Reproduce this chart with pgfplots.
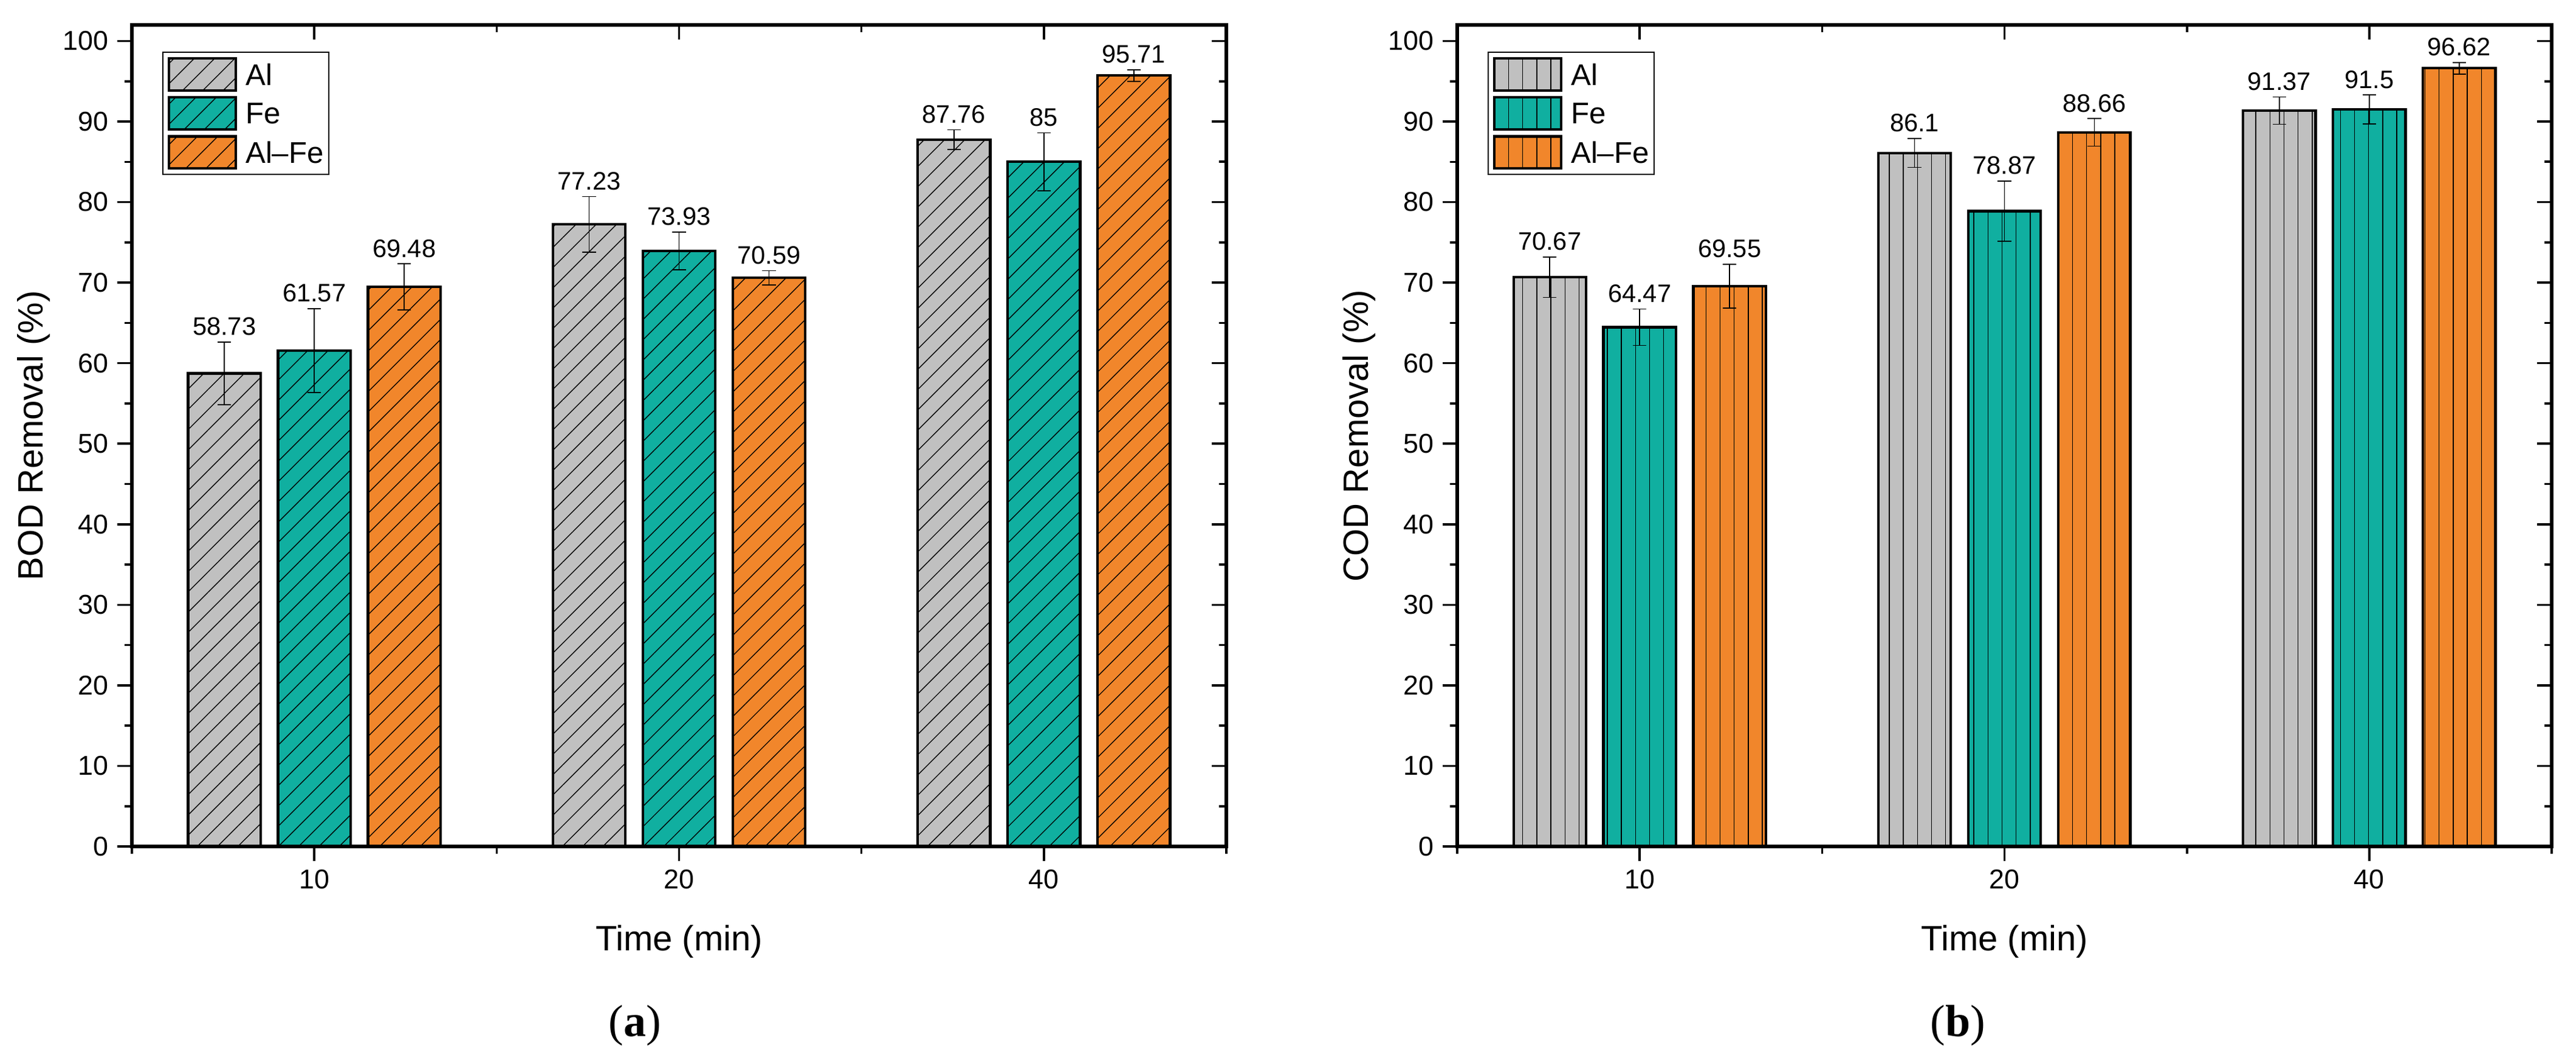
\documentclass[border=0pt]{standalone}
\usepackage{fontspec}
\setmainfont{Liberation Sans}
\newfontfamily\capfont{Liberation Serif}
\usepackage{pgfplots}
\pgfplotsset{compat=1.18}
\usepackage{pgfplotstable}
\usetikzlibrary{patterns.meta}
\definecolor{cgray}{RGB}{192,192,192}
\definecolor{cteal}{RGB}{16,175,160}
\definecolor{corange}{RGB}{241,134,43}

\pgfplotstableread{
x v1 e1 v2 e2 v3 e3
1 58.73 3.9 61.57 5.2 69.48 2.85
2 77.23 3.45 73.93 2.35 70.59 0.9
3 87.76 1.23 85 3.6 95.71 0.72
}\bodtab
\pgfplotstableread{
x v1 e1 v2 e2 v3 e3
1 70.67 2.5 64.47 2.27 69.55 2.73
2 86.1 1.8 78.87 3.75 88.66 1.7
3 91.37 1.7 91.5 1.8 96.62 0.72
}\codtab

\pgfplotsset{
  /pgf/number format/assume math mode=true,
  panelbase/.style={
    width=450.25pt, height=338pt, scale only axis,
    xmin=0.5, xmax=3.5, ymin=0, ymax=102,
    axis line style={line width=1.4pt},
    tick style={line width=0.9pt, black},
    major tick length=6.1pt, minor tick length=3.1pt,
    xtick={1,2,3}, minor xtick={0.5,1.5,2.5,3.5},
    ytick={0,10,...,100}, minor ytick={5,15,...,95},
  },
  panel/.style={
    panelbase,
    tick align=outside, tick pos=left,
    xticklabels={10,20,40},
    ticklabel style={font=\fontsize{11.2}{13}\selectfont},
    label style={font=\fontsize{14.5}{17}\selectfont},
    xlabel={Time (min)},
    xlabel style={at={(axis description cs:0.5,0)}, anchor=center, yshift=-39.25pt},
    ylabel style={at={([xshift=-40.5pt]axis description cs:0,0.5)}, anchor=center},
    legend style={at={(axis description cs:0,1)}, anchor=north west,
      xshift=12.5pt, yshift=-11pt, draw=black, line width=0.5pt,
      inner xsep=2pt, inner ysep=2pt, row sep=1.8pt,
      font=\fontsize{12.3}{14}\selectfont,
      nodes={inner sep=0pt, text depth=0pt},
      /tikz/every odd column/.append style={column sep=3.5pt}},
    legend cell align=left,
  },
  mirror/.style={
    panelbase,
    tick align=inside, tick pos=right,
    xticklabels={}, yticklabels={},
  },
  bars/.style={ybar, bar width=29.8pt, bar shift=0pt},
  barcommon/.style={draw=black, line width=1.05pt,
    legend image code/.code={\draw[##1] (0pt,-6.6pt) rectangle (27.5pt,6.6pt);},
    error bars/.cd, y dir=both, y explicit,
    error bar style={line width=0.4pt, black},
    error mark options={rotate=90, mark size=2.8pt, line width=0.4pt, black}},
  vals/.style={ybar, bar width=29.8pt, bar shift=0pt, draw=none, fill=none,
    forget plot, nodes near coords, point meta=explicit symbolic,
    every node near coord/.append style={font=\fontsize{10.4}{12}\selectfont,
      black, inner sep=0pt, anchor=south, yshift=2.5pt}},
  hatchA/.style={postaction={pattern color=black, pattern={Lines[angle=45,distance=5.9pt,line width=0.35pt]}}},
  hatchB/.style={postaction={pattern color=black, pattern={Lines[angle=90,distance=5.8pt,line width=0.35pt]}}},
}

\begin{document}
\begin{tikzpicture}
\path[use as bounding box] (0,0) rectangle (1059.75pt,437.75pt);

% ---------- (a) BOD ----------
\begin{axis}[panel, at={(54.25pt,89.5pt)}, anchor=south west,
  ylabel={BOD Removal (\%)}]
\addplot[bars, fill=cgray, hatchA, barcommon] table[x expr=\thisrow{x}-0.2465, y=v1, y error=e1] {\bodtab};
\addplot[bars, fill=cteal, hatchA, barcommon] table[x=x, y=v2, y error=e2] {\bodtab};
\addplot[bars, fill=corange, hatchA, barcommon] table[x expr=\thisrow{x}+0.2465, y=v3, y error=e3] {\bodtab};
\legend{Al, Fe, Al\textendash Fe}
\addplot[vals] table[x expr=\thisrow{x}-0.2465, y expr=\thisrow{v1}+\thisrow{e1}, meta=v1] {\bodtab};
\addplot[vals] table[x=x, y expr=\thisrow{v2}+\thisrow{e2}, meta=v2] {\bodtab};
\addplot[vals] table[x expr=\thisrow{x}+0.2465, y expr=\thisrow{v3}+\thisrow{e3}, meta=v3] {\bodtab};
\end{axis}
\begin{axis}[mirror, at={(54.25pt,89.5pt)}, anchor=south west]
\end{axis}

% ---------- (b) COD ----------
\begin{axis}[panel, at={(599.5pt,89.5pt)}, anchor=south west,
  ylabel={COD Removal (\%)}]
\addplot[bars, fill=cgray, hatchB, barcommon] table[x expr=\thisrow{x}-0.2465, y=v1, y error=e1] {\codtab};
\addplot[bars, fill=cteal, hatchB, barcommon] table[x=x, y=v2, y error=e2] {\codtab};
\addplot[bars, fill=corange, hatchB, barcommon] table[x expr=\thisrow{x}+0.2465, y=v3, y error=e3] {\codtab};
\legend{Al, Fe, Al\textendash Fe}
\addplot[vals] table[x expr=\thisrow{x}-0.2465, y expr=\thisrow{v1}+\thisrow{e1}, meta=v1] {\codtab};
\addplot[vals] table[x=x, y expr=\thisrow{v2}+\thisrow{e2}, meta=v2] {\codtab};
\addplot[vals] table[x expr=\thisrow{x}+0.2465, y expr=\thisrow{v3}+\thisrow{e3}, meta=v3] {\codtab};
\end{axis}
\begin{axis}[mirror, at={(599.5pt,89.5pt)}, anchor=south west]
\end{axis}

\node[font=\capfont\fontsize{18.5}{22}\selectfont] at (261.25pt,15.75pt) {(\textbf{a})};
\node[font=\capfont\fontsize{18.5}{22}\selectfont] at (805.5pt,15.75pt) {(\textbf{b})};
\end{tikzpicture}
\end{document}
